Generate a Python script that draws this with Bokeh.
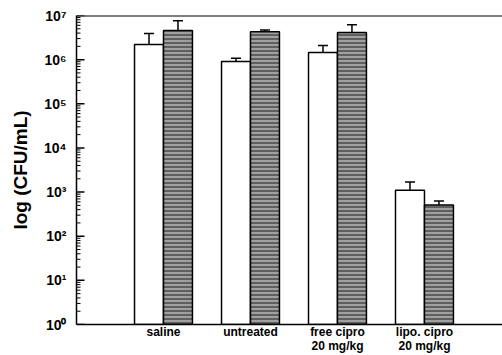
from bokeh.plotting import figure
from bokeh.models import ColumnDataSource, Whisker, TeeHead, FixedTicker, Range1d, Span
from bokeh.embed import file_html
from bokeh.resources import INLINE

categories = ["saline", "untreated", "free cipro\n20 mg/kg", "lipo. cipro\n20 mg/kg"]
open_values = [2.2e6, 9.1e5, 1.45e6, 1.1e3]
open_err_top = [3.9e6, 1.07e6, 2.1e6, 1.7e3]
hatched_values = [4.6e6, 4.3e6, 4.1e6, 5.1e2]
hatched_err_top = [7.6e6, 4.7e6, 6.2e6, 6.3e2]
y_ticks = [1, 10, 100, 1e3, 1e4, 1e5, 1e6, 1e7]
y_tick_labels = ["10⁰", "10¹", "10²", "10³", "10⁴", "10⁵", "10⁶", "10⁷"]
minor_ticks = [m * 10 ** e for e in range(7) for m in range(2, 10)]

FONT = "Liberation Sans"
idx = list(range(len(categories)))
bw = 0.333
X_START, X_END = -1.0, 3.897
FRAME_W = 426
px = (X_END - X_START) / FRAME_W  # one pixel in data units along x

p = figure(width=502, height=355, y_axis_type="log", output_backend="svg",
           toolbar_location=None, x_range=Range1d(X_START, X_END),
           y_range=Range1d(1, 1e7),
           min_border_left=76, min_border_right=0, min_border_top=15, min_border_bottom=30)
p.outline_line_color = None
p.xgrid.visible = False
p.ygrid.visible = False
p.background_fill_color = "white"

src_open = ColumnDataSource(dict(x=[i - bw / 2 for i in idx], top=open_values, err=open_err_top))
src_hat = ColumnDataSource(dict(x=[i + bw / 2 for i in idx], top=hatched_values, err=hatched_err_top))

p.vbar(x="x", top="top", bottom=1, width=bw, source=src_open,
       fill_color="white", line_color="black", line_width=1.5)
p.vbar(x="x", top="top", bottom=1, width=bw, source=src_hat,
       fill_color="#a0a0a0", line_color="black", line_width=1.5,
       hatch_pattern="horizontal_line", hatch_color="#585858", hatch_scale=4, hatch_weight=1.8)

for src in (src_open, src_hat):
    w = Whisker(base="x", lower="top", upper="err", source=src, line_color="black", line_width=1.5,
                upper_head=TeeHead(size=10, line_color="black", line_width=1.5), lower_head=None)
    p.add_layout(w)

p.add_layout(Span(location=1e7, dimension="width", line_color="black", line_width=2))

# inward tick marks along the left axis
p.segment(x0=[X_START] * len(y_ticks), x1=[X_START + 8 * px] * len(y_ticks),
          y0=y_ticks, y1=y_ticks, line_color="black", line_width=1.5)
p.segment(x0=[X_START] * len(minor_ticks), x1=[X_START + 4 * px] * len(minor_ticks),
          y0=minor_ticks, y1=minor_ticks, line_color="black", line_width=1)

# y axis
ya = p.yaxis[0]
ya.ticker = FixedTicker(ticks=y_ticks, minor_ticks=minor_ticks)
ya.major_label_overrides = {t: l for t, l in zip(y_ticks, y_tick_labels)}
ya.major_tick_in = 0
ya.major_tick_out = 0
ya.minor_tick_in = 0
ya.minor_tick_out = 0
ya.major_tick_line_color = None
ya.minor_tick_line_color = None
ya.axis_line_width = 1.5
ya.axis_line_color = "black"
ya.major_label_text_font = FONT
ya.major_label_text_font_style = "bold"
ya.major_label_text_font_size = "14px"
ya.major_label_text_color = "black"
ya.major_label_standoff = 10
ya.axis_label = "log (CFU/mL)"
ya.axis_label_text_font = FONT
ya.axis_label_text_font_style = "bold"
ya.axis_label_text_font_size = "19px"
ya.axis_label_text_color = "black"
ya.axis_label_standoff = 10

# x axis
xa = p.xaxis[0]
xa.ticker = FixedTicker(ticks=idx)
xa.major_label_overrides = {i: c for i, c in zip(idx, categories)}
xa.major_tick_line_color = None
xa.minor_tick_line_color = None
xa.major_tick_in = 0
xa.major_tick_out = 0
xa.axis_line_color = "black"
xa.axis_line_width = 1.5
xa.major_label_text_font = FONT
xa.major_label_text_font_style = "bold"
xa.major_label_text_font_size = "12px"
xa.major_label_text_line_height = 1.0
xa.major_label_text_color = "black"
xa.major_label_standoff = 0

open("out.html", "w").write(file_html(p, INLINE))
